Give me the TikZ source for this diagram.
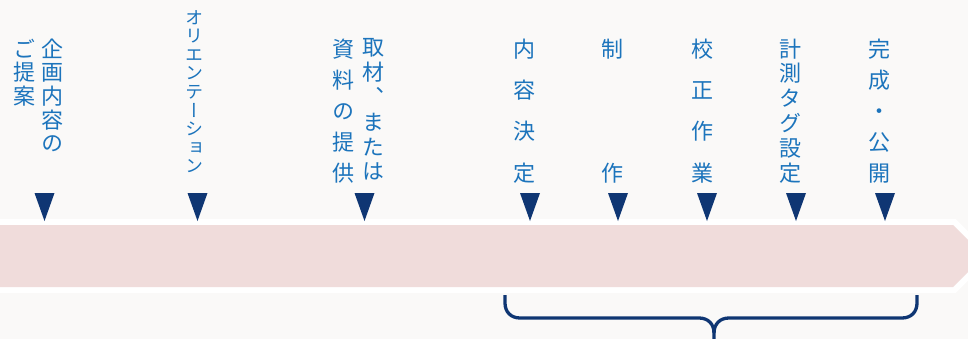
\documentclass[tikz,border=0pt]{standalone}
\usepackage{fontspec}
\newfontfamily\jp[RawFeature=+vert]{Noto Sans CJK JP}
\definecolor{bgc}{HTML}{FAF9F8}
\definecolor{bandpink}{HTML}{F0DCDB}
\definecolor{navy}{HTML}{0F3673}
\definecolor{txtblue}{HTML}{1C74BC}
\begin{document}
\begin{tikzpicture}[x=1pt,y=-1pt,
  vcol/.style={text=txtblue, inner sep=0pt, anchor=north, align=center,
    font=\jp\fontsize{22pt}{#1pt}\selectfont},
  vsmall/.style={text=txtblue, inner sep=0pt, anchor=north, align=center,
    font=\jp\fontsize{18pt}{#1pt}\selectfont},
  marker/.style={fill=navy},
  brace/.style={draw=navy, line width=3.3pt}]
\useasboundingbox (0,0) rectangle (968,339);
\clip (0,0) rectangle (968,339);
\fill[bgc] (0,0) rectangle (968,339);
% band
\fill[white] (-10,219) -- (955.5,219) -- (992.5,256) -- (955.5,293) -- (-10,293) -- cycle;
\fill[bandpink] (-10,225) -- (953,225) -- (984,256) -- (953,287) -- (-10,287) -- cycle;
% markers
\foreach \x in {44.5,197.5,364.5,530,618,707,796,885}
  \fill[marker] (\x-10,193) -- (\x+10,193) -- (\x,221) -- cycle;
% labels
\node[vcol=23.6] (t1a) at (52.5,38.5) {企\\画\\内\\容\\の};
\node[vcol=23.6] (t1b) at (24,38.5) {ご\\提\\案};
\node[vsmall=18.6] (t2) at (194,10) {オ\\リ\\エ\\ン\\テ\\ー\\シ\\ョ\\ン};
\node[vcol=24.8] (t3a) at (373,38.5) {取\\材\\、\\ま\\た\\は};
\node[vcol=31] (t3b) at (343,38.5) {資\\料\\の\\提\\供};
\node[vcol=41.4] (t4) at (524,38.5) {内\\容\\決\\定};
\node[vcol=124] (t5) at (612.5,38.5) {制\\作};
\node[vcol=41.4] (t6) at (702,38.5) {校\\正\\作\\業};
\node[vcol=24.8] (t7) at (790.5,38.5) {計\\測\\タ\\グ\\設\\定};
\node[vcol=31] (t8) at (879,38.5) {完\\成\\・\\公\\開};
% brace
\coordinate (bl) at (505,295);
\coordinate (br) at (917,295);
\coordinate (bm) at (714,345);
\draw[brace] (bl) -- (505,303) .. controls (505,312) and (511,318) .. (520,318)
  -- (699,318) .. controls (708,318) and (714,324) .. (714,333) -- (bm);
\draw[brace] (br) -- (917,303) .. controls (917,312) and (911,318) .. (902,318)
  -- (729,318) .. controls (720,318) and (714,324) .. (714,333);
\end{tikzpicture}
\end{document}
